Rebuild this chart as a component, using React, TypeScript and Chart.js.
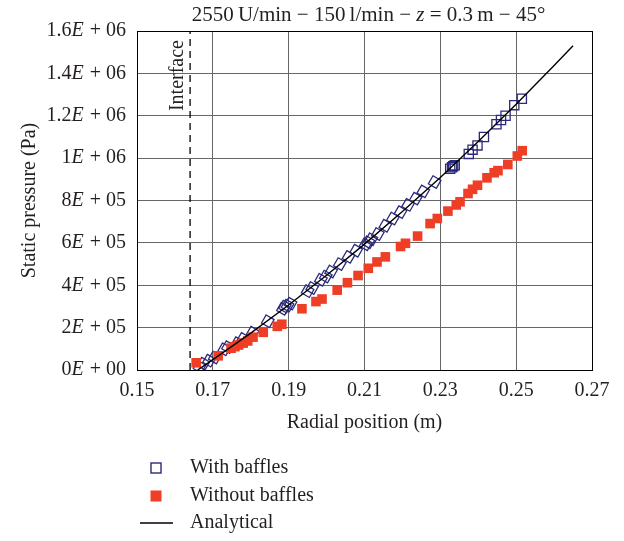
import { useEffect, useRef } from "react";
import { Chart, registerables } from "chart.js";

Chart.register(...registerables);

const SERIF = '"Liberation Serif", "Times New Roman", serif';
const TEXT = "#231f20";

// Measured static pressure with baffles: radial position (m) / pressure (Pa)
const withBafflesR = [
  0.1665, 0.1675, 0.169, 0.1705, 0.173, 0.174, 0.1765, 0.178, 0.1805, 0.1845,
  0.1885, 0.189, 0.1897, 0.1905, 0.195, 0.1962, 0.1985, 0.1998, 0.2012, 0.2035,
  0.2058, 0.2078, 0.2103, 0.211, 0.2118, 0.2135, 0.2155, 0.2175, 0.2195, 0.2215,
  0.2235, 0.2255, 0.2285, 0.2326, 0.2331, 0.2334, 0.2338, 0.2375, 0.2385, 0.2398,
  0.2415, 0.2448, 0.246, 0.2472, 0.2495, 0.2515,
];
const withBafflesP = [
  1.5e4, 3.0e4, 4.4e4, 5.9e4, 9.8e4, 1.08e5, 1.27e5, 1.47e5, 1.76e5, 2.3e5,
  2.89e5, 2.99e5, 3.04e5, 3.13e5, 3.72e5, 3.87e5, 4.26e5, 4.41e5, 4.65e5, 5.0e5,
  5.34e5, 5.63e5, 5.93e5, 6.03e5, 6.17e5, 6.42e5, 6.81e5, 7.15e5, 7.45e5, 7.79e5,
  8.09e5, 8.43e5, 8.87e5, 9.5e5, 9.57e5, 9.62e5, 9.66e5, 1.02e6, 1.04e6, 1.06e6,
  1.1e6, 1.16e6, 1.18e6, 1.2e6, 1.25e6, 1.28e6,
];

// Measured static pressure without baffles
const withoutBafflesR = [
  0.1656, 0.1714, 0.1748, 0.1758, 0.1768, 0.178, 0.1792, 0.1806, 0.1833, 0.187,
  0.1882, 0.1935, 0.1972, 0.1988, 0.2028, 0.2055, 0.2083, 0.211, 0.2133, 0.2155,
  0.2195, 0.2208, 0.224, 0.2273, 0.2292, 0.232, 0.2342, 0.2352, 0.2373, 0.2385,
  0.2398, 0.2423, 0.2442, 0.2452, 0.2478, 0.2503, 0.2516,
];
const withoutBafflesP = [
  3.4e4, 6.7e4, 1.03e5, 1.1e5, 1.18e5, 1.27e5, 1.37e5, 1.55e5, 1.78e5, 2.06e5,
  2.16e5, 2.89e5, 3.23e5, 3.35e5, 3.77e5, 4.12e5, 4.46e5, 4.8e5, 5.1e5, 5.34e5,
  5.83e5, 5.98e5, 6.32e5, 6.91e5, 7.15e5, 7.5e5, 7.79e5, 7.94e5, 8.33e5, 8.53e5,
  8.72e5, 9.07e5, 9.31e5, 9.41e5, 9.7e5, 1.01e6, 1.035e6,
];

// Analytical pressure curve
const analyticalR = [0.166, 0.17, 0.18, 0.19, 0.2, 0.21, 0.22, 0.23, 0.24, 0.25, 0.26, 0.265];
const analyticalP = [0, 4.9e4, 1.74e5, 3.07e5, 4.47e5, 5.94e5, 7.48e5, 9.09e5, 1.078e6, 1.254e6, 1.437e6, 1.53e6];

// Position of the free-surface interface
const interfaceR = 0.164;
const interfaceLabel = "Interface";

const xTickLabels = ["0.15", "0.17", "0.19", "0.21", "0.23", "0.25", "0.27"];
const yTickLabels = [
  "0E + 00", "2E + 05", "4E + 05", "6E + 05", "8E + 05",
  "1E + 06", "1.2E + 06", "1.4E + 06", "1.6E + 06",
];
const legendLabels = ["With baffles", "Without baffles", "Analytical"];
const titleParts: [string, boolean][] = [
  ["2550\u2009U/min \u2212 150\u2009l/min \u2212 ", false],
  ["z", true],
  [" = 0.3\u2009m \u2212 45°", false],
];
const xTitle = "Radial position (m)";
const yTitle = "Static pressure (Pa)";

const BLUE = "#2b2a7c";
const RED = "#ef3e26";

const toPoints = (xs: number[], ys: number[]) => xs.map((x, i) => ({ x, y: ys[i] }));

const font = (size: number, italic = false) => `${italic ? "italic " : ""}${size}px ${SERIF}`;

const decorations = {
  id: "decorations",
  beforeDatasetsDraw(chart: any) {
    const { ctx, chartArea } = chart;
    ctx.save();
    ctx.strokeStyle = "#000";
    ctx.lineWidth = 1;
    ctx.strokeRect(
      Math.round(chartArea.left) + 0.5,
      Math.round(chartArea.top) + 0.5,
      Math.round(chartArea.right - chartArea.left),
      Math.round(chartArea.bottom - chartArea.top)
    );
    ctx.restore();
  },
  afterDraw(chart: any) {
    const { ctx, chartArea } = chart;
    const yScale = chart.scales.y;
    const xScale = chart.scales.x;
    ctx.save();
    ctx.fillStyle = TEXT;
    ctx.textBaseline = "middle";

    // y tick labels with italic exponent marker
    const rightEdge = chartArea.left - 11;
    yScale.ticks.forEach((t: any, i: number) => {
      const label = yTickLabels[i];
      if (!label) return;
      const y = yScale.getPixelForValue(t.value);
      const [mant, rest] = label.split("E");
      ctx.font = font(20);
      const wMant = ctx.measureText(mant).width;
      const wRest = ctx.measureText(rest).width;
      ctx.font = font(20, true);
      const wE = ctx.measureText("E").width;
      let x = rightEdge - wRest - wE - wMant - 1;
      ctx.textAlign = "left";
      ctx.font = font(20);
      ctx.fillText(mant, x, y);
      x += wMant;
      ctx.font = font(20, true);
      ctx.fillText("E", x, y);
      x += wE + 1;
      ctx.font = font(20);
      ctx.fillText(rest, x, y);
    });

    // chart title with italic z
    ctx.textAlign = "left";
    let total = 0;
    titleParts.forEach(([s, it]) => {
      ctx.font = font(21, it);
      total += ctx.measureText(s).width;
    });
    let tx = (chartArea.left + chartArea.right) / 2 - total / 2 + 4;
    titleParts.forEach(([s, it]) => {
      ctx.font = font(21, it);
      ctx.fillText(s, tx, 15);
      tx += ctx.measureText(s).width;
    });

    // interface label, rotated
    const ix = xScale.getPixelForValue(interfaceR);
    ctx.save();
    ctx.translate(ix - 12, chartArea.top + 9);
    ctx.rotate(-Math.PI / 2);
    ctx.font = font(20);
    ctx.textAlign = "right";
    ctx.fillText(interfaceLabel, 0, 0);
    ctx.restore();

    // legend
    const mx = 156;
    const rows = [468, 496, 523];
    ctx.font = font(20);
    ctx.textAlign = "left";
    legendLabels.forEach((lab, i) => {
      const y = rows[i];
      if (i === 0) {
        ctx.strokeStyle = BLUE;
        ctx.lineWidth = 1.4;
        ctx.strokeRect(mx - 5, y - 5, 10, 10);
      } else if (i === 1) {
        ctx.fillStyle = RED;
        ctx.fillRect(mx - 5.5, y - 5.5, 11, 11);
      } else {
        ctx.strokeStyle = "#000";
        ctx.lineWidth = 1.5;
        ctx.beginPath();
        ctx.moveTo(mx - 16, y);
        ctx.lineTo(mx + 17, y);
        ctx.stroke();
      }
      ctx.fillStyle = TEXT;
      ctx.fillText(lab, 190, y);
    });
    ctx.restore();
  },
};

export default function App() {
  const canvasRef = useRef<HTMLCanvasElement | null>(null);

  useEffect(() => {
    const canvas = canvasRef.current;
    if (!canvas) return;
    const chart = new Chart(canvas, {
      type: "scatter",
      data: {
        datasets: [
          {
            label: legendLabels[2],
            data: toPoints(analyticalR, analyticalP),
            showLine: true,
            borderColor: "#000",
            borderWidth: 1.4,
            pointRadius: 0,
            pointHoverRadius: 0,
          },
          {
            label: legendLabels[1],
            data: toPoints(withoutBafflesR, withoutBafflesP),
            pointStyle: "rect",
            pointRadius: 6.8,
            backgroundColor: RED,
            borderColor: RED,
            borderWidth: 0,
          },
          {
            label: legendLabels[0],
            data: toPoints(withBafflesR, withBafflesP),
            pointStyle: "rect",
            pointRadius: 6.5,
            backgroundColor: "rgba(0,0,0,0)",
            borderColor: BLUE,
            borderWidth: 1.3,
            pointRotation: (c: any) => (c.raw && c.raw.x < 0.2320 ? 30 : 0),
          },
          {
            label: interfaceLabel,
            data: [
              { x: interfaceR, y: 0 },
              { x: interfaceR, y: 1.6e6 },
            ],
            showLine: true,
            borderColor: "#000",
            borderWidth: 1.3,
            borderDash: [7, 5],
            pointRadius: 0,
          },
        ],
      },
      options: {
        responsive: false,
        animation: false,
        devicePixelRatio: 1,
        layout: { padding: { left: 0, right: 32, top: 31, bottom: 106 } },
        plugins: {
          legend: { display: false },
          tooltip: { enabled: false },
          title: { display: false },
        },
        scales: {
          x: {
            type: "linear",
            min: 0.15,
            max: 0.27,
            ticks: {
              stepSize: 0.02,
              padding: 9,
              color: TEXT,
              font: { family: SERIF, size: 20 },
              callback: (_v: any, i: number) => xTickLabels[i],
            },
            grid: { color: "#666", lineWidth: 1, drawTicks: false },
            border: { display: true, color: "#000" },
            title: {
              display: true,
              text: xTitle,
              color: TEXT,
              font: { family: SERIF, size: 20 },
              padding: 0,
            },
            afterFit: (s: any) => {
              s.height = 65;
            },
          },
          y: {
            type: "linear",
            min: 0,
            max: 1.6e6,
            ticks: {
              stepSize: 2e5,
              display: false,
              callback: (_v: any, i: number) => yTickLabels[i],
            },
            grid: { color: "#666", lineWidth: 1, drawTicks: false },
            border: { display: true, color: "#000" },
            title: {
              display: true,
              text: yTitle,
              color: TEXT,
              font: { family: SERIF, size: 20 },
              padding: { top: 18, bottom: 0 },
            },
            afterFit: (s: any) => {
              s.width = 137;
            },
          },
        },
      },
      plugins: [decorations],
    } as any);
    return () => chart.destroy();
  }, []);

  return (
    <div style={{ position: "absolute", left: 0, top: 0, width: 624, height: 541, background: "#fff" }}>
      <canvas ref={canvasRef} width={624} height={541} />
    </div>
  );
}
